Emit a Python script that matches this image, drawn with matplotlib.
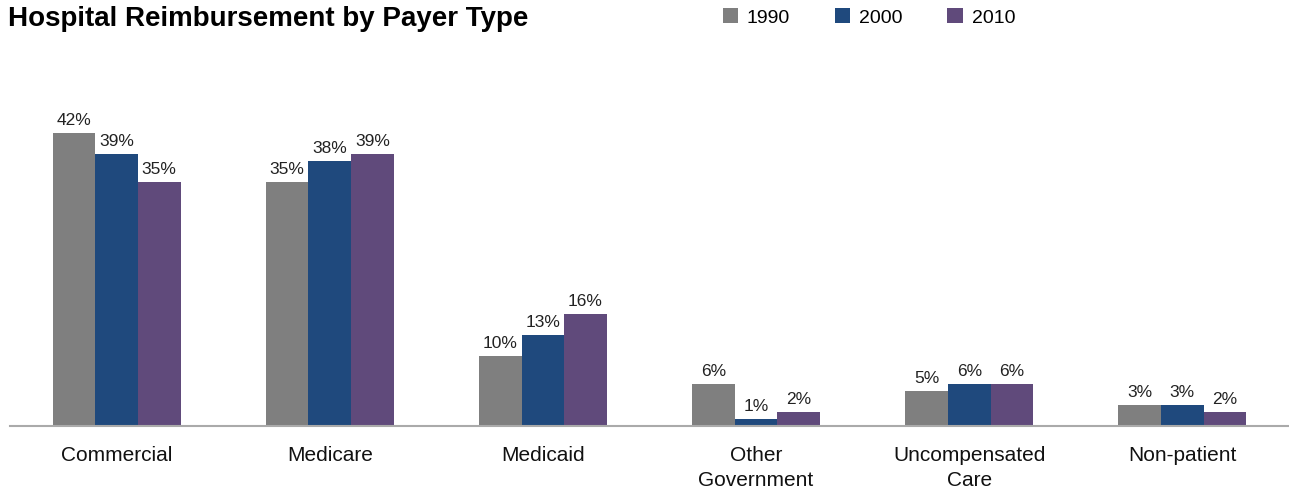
import numpy as np
import matplotlib.pyplot as plt

plt.rcParams["font.family"] = ["Liberation Sans", "DejaVu Sans"]

categories = ["Commercial", "Medicare", "Medicaid", "Other\nGovernment",
              "Uncompensated\nCare", "Non-patient"]
years = ["1990", "2000", "2010"]
v1990 = [42, 35, 10, 6, 5, 3]
v2000 = [39, 38, 13, 1, 6, 3]
v2010 = [35, 39, 16, 2, 6, 2]
colors = ["#7f7f7f", "#1f497d", "#604a7b"]

fig = plt.figure(figsize=(12.89, 4.89), dpi=100)
ax = fig.add_axes([10 / 1289, 62 / 489, 1279 / 1289, 348.5 / 489])

x = np.arange(len(categories))
w = 0.2
for i, (vals, yr, c) in enumerate(zip([v1990, v2000, v2010], years, colors)):
    pos = x + (i - 1) * w
    ax.bar(pos, vals, width=w, color=c, label=yr, zorder=2)
    for px, v in zip(pos, vals):
        ax.text(px, v + 0.9, f"{v}%", ha="center", va="bottom", fontsize=12.5,
                color="#222222")

ax.set_xlim(-0.5, 5.5)
ax.set_ylim(0, 50)
ax.set_yticks([])
ax.set_xticks(x)
ax.set_xticklabels(categories, fontsize=15, color="#111111", linespacing=1.38)
ax.tick_params(axis="x", length=0, pad=14)
for s in ["top", "right", "left"]:
    ax.spines[s].set_visible(False)
ax.spines["bottom"].set_color("#aaaaaa")
ax.spines["bottom"].set_linewidth(1.5)

fig.text(8 / 1289, 1 - 19 / 489, "Hospital Reimbursement by Payer Type",
         fontsize=20, fontweight="bold", va="center", ha="left")
fig.legend(loc="center left", bbox_to_anchor=(705 / 1289, 1 - 18 / 489),
           ncol=3, frameon=False, fontsize=14, handlelength=0.8,
           handleheight=0.8, columnspacing=2.3, handletextpad=0.45)

fig.savefig("out.png", dpi=100)
